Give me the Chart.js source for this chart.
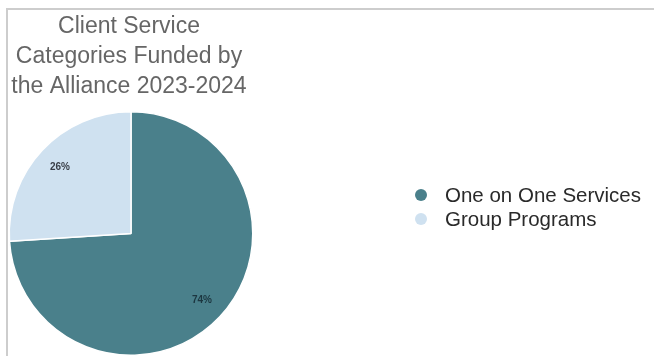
<!DOCTYPE html>
<html>
<head>
<meta charset="utf-8">
<script src="https://cdn.jsdelivr.net/npm/chart.js@4/dist/chart.umd.min.js"></script>
<style>
  html, body { margin: 0; padding: 0; background: #fff; }
  #wrap { position: relative; width: 654px; height: 356px; overflow: hidden; }
  #frame {
    position: absolute; left: 6px; top: 8px; right: 0; bottom: 0;
    border-top: 2px solid #cdcdcd; border-left: 2px solid #cdcdcd;
  }
  #chart { position: absolute; left: 0; top: 0; }
</style>
</head>
<body>
<div id="wrap">
  <div id="frame"></div>
  <canvas id="chart" width="654" height="356"></canvas>
</div>
<script>
const titleLines = ['Client Service', 'Categories Funded by', 'the Alliance 2023-2024'];
const categories = ['One on One Services', 'Group Programs'];
const shares = [74, 26];
const sliceColors = ['#4a808b', '#cfe1f0'];

// title block over the pie, lines centred on the pie's x
const titlePlugin = {
  id: 'blockTitle',
  afterDraw(chart) {
    const ctx = chart.ctx;
    const cx = (chart.chartArea.left + chart.chartArea.right) / 2;
    ctx.save();
    ctx.fillStyle = '#666666';
    ctx.font = '23px "Liberation Sans", Arial, sans-serif';
    ctx.textAlign = 'center';
    ctx.textBaseline = 'alphabetic';
    titleLines.forEach((line, i) => {
      ctx.fillText(line, cx - 2, 33 + i * 30);
    });
    ctx.restore();
  }
};

// percentage text inside each slice
const sliceLabels = {
  id: 'sliceLabels',
  afterDatasetsDraw(chart) {
    const ctx = chart.ctx;
    const meta = chart.getDatasetMeta(0);
    const total = shares.reduce((a, b) => a + b, 0);
    ctx.save();
    ctx.font = 'bold 10px "Liberation Sans", Arial, sans-serif';
    ctx.textAlign = 'center';
    ctx.textBaseline = 'middle';
    meta.data.forEach((arc, i) => {
      const p = arc.getProps(['x', 'y', 'startAngle', 'endAngle', 'outerRadius'], true);
      const mid = (p.startAngle + p.endAngle) / 2;
      const r = p.outerRadius * 0.8;
      ctx.fillStyle = i === 0 ? '#1c3640' : '#3a3f48';
      ctx.fillText(Math.round(shares[i] / total * 100) + '%', p.x + Math.cos(mid) * r, p.y + Math.sin(mid) * r);
    });
    ctx.restore();
  }
};

// legend at the right, circles + names
const sideLegend = {
  id: 'sideLegend',
  afterDraw(chart) {
    const ctx = chart.ctx;
    const ds = chart.data.datasets[0];
    ctx.save();
    ctx.font = '20.5px "Liberation Sans", Arial, sans-serif';
    ctx.textAlign = 'left';
    ctx.textBaseline = 'middle';
    chart.data.labels.forEach((label, i) => {
      const y = 195 + i * 24;
      ctx.fillStyle = ds.backgroundColor[i];
      ctx.beginPath();
      ctx.arc(421, y, 6, 0, Math.PI * 2);
      ctx.fill();
      ctx.fillStyle = '#2a2a2a';
      ctx.fillText(label, 445, y + 1);
    });
    ctx.restore();
  }
};

new Chart(document.getElementById('chart'), {
  type: 'pie',
  data: {
    labels: categories,
    datasets: [{
      data: shares,
      backgroundColor: sliceColors,
      borderColor: '#ffffff',
      borderWidth: 1.5
    }]
  },
  options: {
    responsive: false,
    animation: false,
    layout: {
      padding: { left: 7, top: 111, right: 399, bottom: -2 }
    },
    plugins: {
      legend: { display: false },
      title: { display: false },
      tooltip: { enabled: false }
    }
  },
  plugins: [titlePlugin, sliceLabels, sideLegend]
});
</script>
</body>
</html>
